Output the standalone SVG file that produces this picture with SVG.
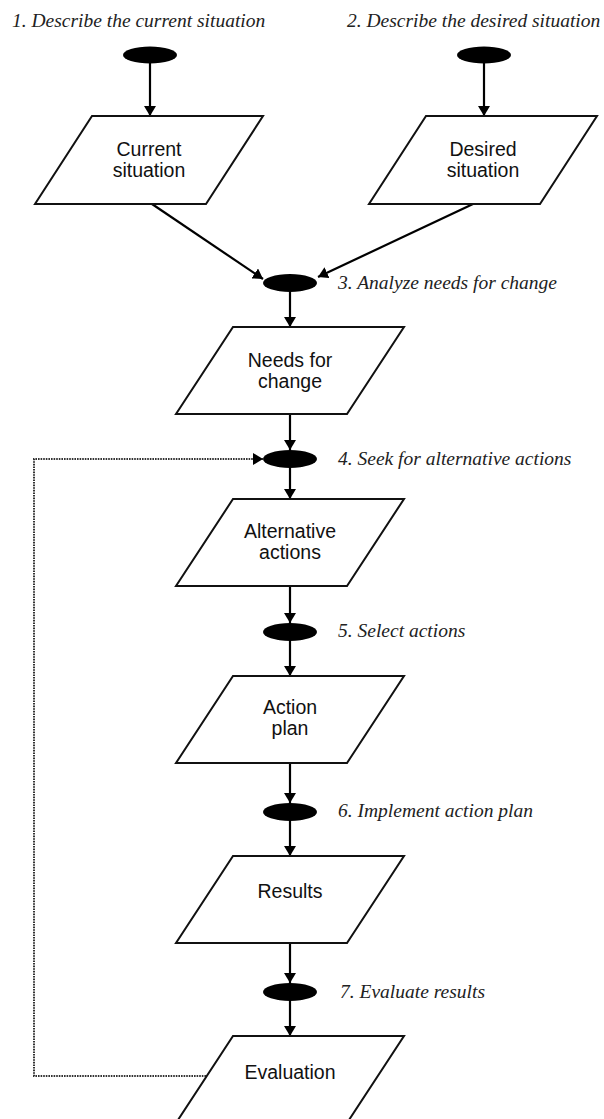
<svg xmlns="http://www.w3.org/2000/svg" width="604" height="1119" viewBox="0 0 604 1119">
<style>
.shape{fill:#fff;stroke:#111;stroke-width:2;stroke-linejoin:miter}
.dot{fill:#000}
.nt{font-family:"Liberation Sans",Arial,sans-serif;font-size:19.5px;fill:#111;text-anchor:middle}
.lb{font-family:"Liberation Serif","Times New Roman",serif;font-style:italic;font-size:19.5px;fill:#222}
.ed{fill:none;stroke:#000;stroke-width:2.2}
.dt{fill:none;stroke:#333;stroke-width:2;stroke-dasharray:1.6 1}
</style>
<defs>
<marker id="ah" markerUnits="userSpaceOnUse" markerWidth="12" markerHeight="12" refX="10" refY="6" orient="auto">
<path d="M0,0 L10,6 L0,12 Z" fill="#000"/>
</marker>
</defs>
<rect width="604" height="1119" fill="#fff"/>
<g id="labels">
<text class="lb" x="12" y="27">1. Describe the current situation</text>
<text class="lb" x="347" y="27">2. Describe the desired situation</text>
<text class="lb" x="338" y="289">3. Analyze needs for change</text>
<text class="lb" x="338" y="465">4. Seek for alternative actions</text>
<text class="lb" x="338" y="637">5. Select actions</text>
<text class="lb" x="338" y="817">6. Implement action plan</text>
<text class="lb" x="340" y="998">7. Evaluate results</text>
</g>
<g id="connectors">
<path class="ed" d="M150,63 V116" marker-end="url(#ah)"/>
<path class="ed" d="M484,63 V116" marker-end="url(#ah)"/>
<path class="ed" d="M152,204 L263,279" marker-end="url(#ah)"/>
<path class="ed" d="M473,204 L318,277" marker-end="url(#ah)"/>
<path class="ed" d="M290,292 V327" marker-end="url(#ah)"/>
<path class="ed" d="M290,414 V450" marker-end="url(#ah)"/>
<path class="ed" d="M290,468 V499" marker-end="url(#ah)"/>
<path class="ed" d="M290,586 V623" marker-end="url(#ah)"/>
<path class="ed" d="M290,641 V676" marker-end="url(#ah)"/>
<path class="ed" d="M290,763 V803" marker-end="url(#ah)"/>
<path class="ed" d="M290,821 V856" marker-end="url(#ah)"/>
<path class="ed" d="M290,943 V983" marker-end="url(#ah)"/>
<path class="ed" d="M290,1001 V1036" marker-end="url(#ah)"/>
<path class="dt" d="M206,1076 H34 V459 H263" marker-end="url(#ah)"/>
</g>
<g id="start1"><ellipse class="dot" cx="150" cy="55" rx="27" ry="8.5"/></g>
<g id="start2"><ellipse class="dot" cx="484" cy="55" rx="27" ry="8.5"/></g>
<g id="step3"><ellipse class="dot" cx="290" cy="283" rx="27" ry="9"/></g>
<g id="step4"><ellipse class="dot" cx="290" cy="459" rx="27" ry="9"/></g>
<g id="step5"><ellipse class="dot" cx="290" cy="632" rx="27" ry="9"/></g>
<g id="step6"><ellipse class="dot" cx="290" cy="812" rx="27" ry="9"/></g>
<g id="step7"><ellipse class="dot" cx="290" cy="992" rx="27" ry="9"/></g>
<g id="current-situation">
<polygon class="shape" points="92,116 263,116 206,204 35,204"/>
<text class="nt" x="149" y="156">Current</text>
<text class="nt" x="149" y="177">situation</text>
</g>
<g id="desired-situation">
<polygon class="shape" points="426,116 597,116 540,204 369,204"/>
<text class="nt" x="483" y="156">Desired</text>
<text class="nt" x="483" y="177">situation</text>
</g>
<g id="needs-for-change">
<polygon class="shape" points="233,327 404,327 347,414 176,414"/>
<text class="nt" x="290" y="367">Needs for</text>
<text class="nt" x="290" y="388">change</text>
</g>
<g id="alternative-actions">
<polygon class="shape" points="233,499 404,499 347,586 176,586"/>
<text class="nt" x="290" y="538">Alternative</text>
<text class="nt" x="290" y="559">actions</text>
</g>
<g id="action-plan">
<polygon class="shape" points="233,676 404,676 347,763 176,763"/>
<text class="nt" x="290" y="714">Action</text>
<text class="nt" x="290" y="735">plan</text>
</g>
<g id="results">
<polygon class="shape" points="233,856 404,856 347,943 176,943"/>
<text class="nt" x="290" y="898">Results</text>
</g>
<g id="evaluation">
<polygon class="shape" points="233,1036 404,1036 347,1123 176,1123"/>
<text class="nt" x="290" y="1079">Evaluation</text>
</g>
</svg>
